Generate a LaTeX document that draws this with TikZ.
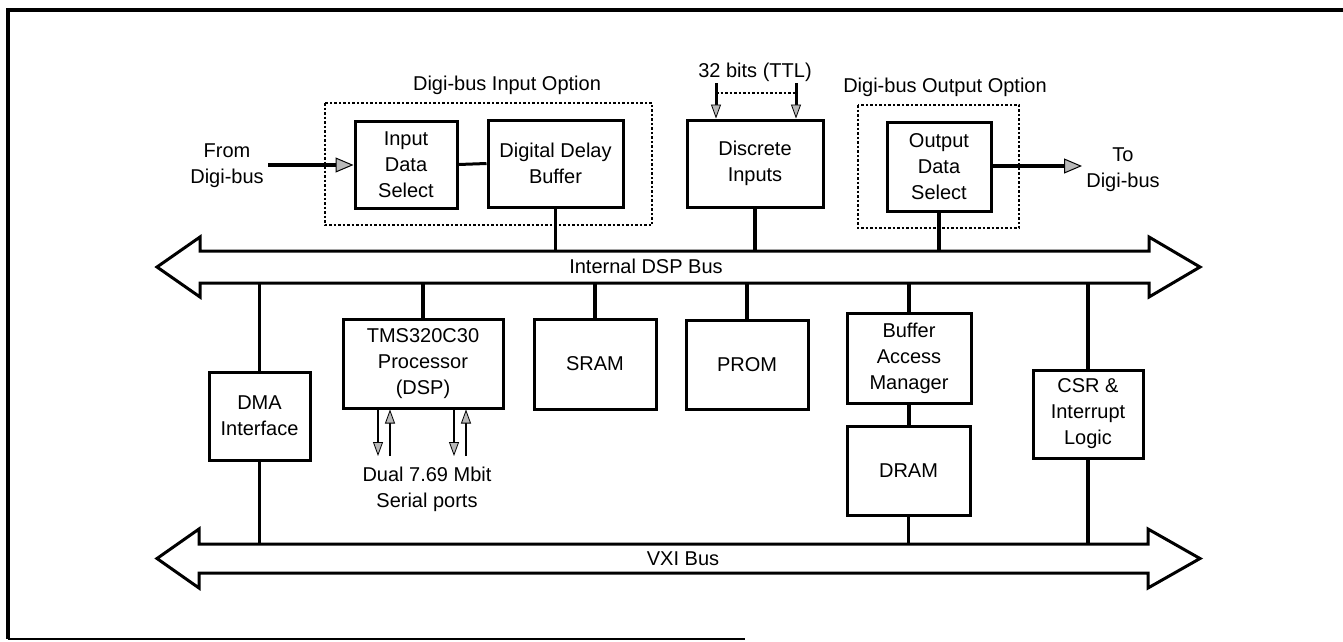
\documentclass[tikz,border=0pt]{standalone}
\usepackage{fontspec}
\setmainfont{Liberation Sans}
\usetikzlibrary{arrows.meta}
\begin{document}
\begin{tikzpicture}[x=1pt,y=-1pt,
  every node/.style={font=\fontsize{20}{26}\selectfont},
  blk/.style={draw, line width=3pt, align=center, inner sep=0pt},
  txt/.style={align=center, inner sep=0pt},
  stub/.style={line width=3.5pt},
  optbox/.style={line width=2.5pt, dash pattern=on 2.5pt off 2pt},
  bus/.style={line width=3pt, line join=miter, fill=white},
  bigarrow/.style={line width=4.5pt, -{Triangle[length=18pt,width=15pt,fill=gray!55,line width=1pt]}},
  smallarrow/.style={line width=2.5pt, -{Triangle[length=14pt,width=10pt,fill=gray!55,line width=0.8pt]}}]
\useasboundingbox (0,0) rectangle (1343,641);

% outer frame (top, left, bottom)
\draw[line width=4pt] (1343,10) -- (8,10) -- (8,639);
\draw[line width=2.5pt] (8,639) -- (745,639);

% ---- optional Digi-bus sections
\draw[optbox] (325,103) rectangle (652,225);
\draw[optbox] (858,105) rectangle (1019,228);
\node[txt] (inopt) at (507,85) {Digi-bus Input Option};
\node[txt] (outopt) at (945,87) {Digi-bus Output Option};

% ---- upper blocks
\node[blk, minimum width=102pt, minimum height=87pt] (ids) at (406,164.5) {Input\\Data\\Select};
\node[blk, minimum width=135pt, minimum height=87pt] (ddb) at (555.5,163.5) {Digital Delay\\Buffer};
\node[blk, minimum width=136pt, minimum height=87pt] (disc) at (755,163.5) {Discrete\\Inputs};
\node[blk, minimum width=104pt, minimum height=89pt] (ods) at (939,166.5) {Output\\Data\\Select};

\node[txt] (from) at (227,166) {From\\Digi-bus};
\node[txt] (to) at (1123,170) {To\\Digi-bus};
\node[txt] (ttl) at (755,72) {32 bits (TTL)};

\coordinate (fromend) at (268,165);
\coordinate (toend) at (1082,166);
\draw[bigarrow] (fromend) -- (ids.west |- fromend);
\draw[bigarrow] (ods.east |- toend) -- (toend);
\draw[line width=3pt] (ids.east) -- (ddb.west);

% 32-bit discrete input lines
\coordinate (ttlA) at (716,83);
\coordinate (ttlB) at (796,83);
\draw[smallarrow, line width=3pt] (ttlA) -- (ttlA |- disc.north);
\draw[smallarrow, line width=3pt] (ttlB) -- (ttlB |- disc.north);
\draw[line width=2.5pt, dash pattern=on 2.5pt off 2pt] ([yshift=-10pt]ttlA) -- ([yshift=-10pt]ttlB);

% ---- buses
\draw[bus] (157,267) -- (200,237) -- (200,251) -- (1149,251) -- (1149,237) -- (1200,267)
  -- (1149,297) -- (1149,283) -- (200,283) -- (200,297) -- cycle;
\coordinate (ibT) at (0,251);
\coordinate (ibB) at (0,283);
\node[txt] (ibus) at (646,266) {Internal DSP Bus};

\draw[bus] (157,558.5) -- (199,529) -- (199,544) -- (1148,544) -- (1148,529) -- (1200,558.5)
  -- (1148,588) -- (1148,573) -- (199,573) -- (199,588) -- cycle;
\coordinate (vxT) at (0,544);
\node[txt] (vxi) at (683,559) {VXI Bus};

% ---- lower blocks
\node[blk, minimum width=101pt, minimum height=88pt] (dma) at (259.5,416) {DMA\\Interface};
\node[blk, minimum width=160pt, minimum height=89pt] (tms) at (423,363.5) {TMS320C30\\Processor\\(DSP)};
\node[blk, minimum width=122pt, minimum height=90pt] (sram) at (595,364) {SRAM};
\node[blk, minimum width=122pt, minimum height=89pt] (prom) at (747,364.5) {PROM};
\node[blk, minimum width=124pt, minimum height=90pt] (bam) at (909,358) {Buffer\\Access\\Manager};
\node[blk, minimum width=123pt, minimum height=89pt] (dram) at (908.5,470.5) {DRAM};
\node[blk, minimum width=110pt, minimum height=88pt] (csr) at (1088,414) {CSR \&\\Interrupt\\Logic};

% ---- bus taps
\draw[stub] (ddb.south) -- (ddb.south |- ibT);
\draw[stub] (disc.south) -- (disc.south |- ibT);
\draw[stub] (ods.south) -- (ods.south |- ibT);

\draw[stub] (dma.north) -- (dma.north |- ibB);
\draw[stub] (dma.south) -- (dma.south |- vxT);
\draw[stub] (tms.north) -- (tms.north |- ibB);
\draw[stub] (sram.north) -- (sram.north |- ibB);
\draw[stub] (prom.north) -- (prom.north |- ibB);
\draw[stub] (bam.north) -- (bam.north |- ibB);
\draw[stub] (bam.south) -- (bam.south |- dram.north);
\draw[stub] (dram.south) -- (dram.south |- vxT);
\draw[stub] (csr.north) -- (csr.north |- ibB);
\draw[stub] (csr.south) -- (csr.south |- vxT);

% ---- serial ports
\coordinate (sp1) at (378,456);
\coordinate (sp2) at (390,456);
\coordinate (sp3) at (454,456);
\coordinate (sp4) at (466,456);
\draw[smallarrow] (sp1 |- tms.south) -- (sp1);
\draw[smallarrow] (sp2) -- (sp2 |- tms.south);
\draw[smallarrow] (sp3 |- tms.south) -- (sp3);
\draw[smallarrow] (sp4) -- (sp4 |- tms.south);
\node[txt] (serial) at (427,489) {Dual 7.69 Mbit\\Serial ports};
\end{tikzpicture}
\end{document}
